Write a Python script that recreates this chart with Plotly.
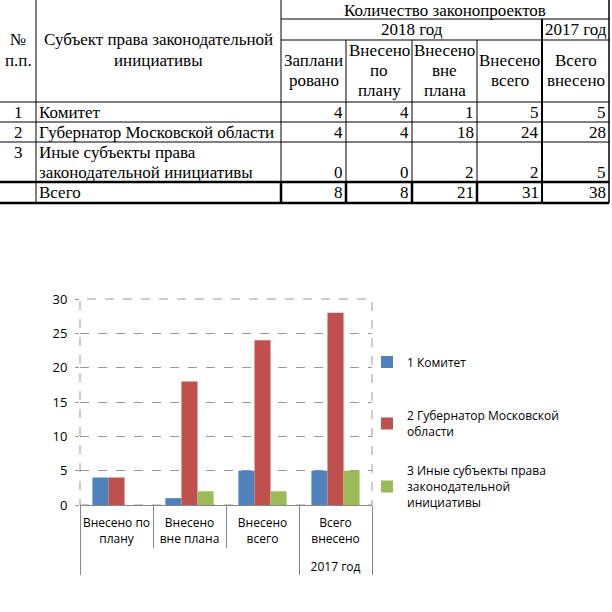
import plotly.graph_objects as go

# ---------------- data ----------------
row_numbers = ["1", "2", "3", ""]
subjects = ["Комитет", "Губернатор Московской области",
            "Иные субъекты права<br>законодательной инициативы", "Всего"]
planned = [4, 4, 0, 8]
in_plan = [4, 4, 0, 8]
out_plan = [1, 18, 2, 21]
total_2018 = [5, 24, 2, 31]
total_2017 = [5, 28, 5, 38]

series_names = ["1 Комитет", "2 Губернатор Московской<br>области",
                "3 Иные субъекты права<br>законодательной<br>инициативы"]
categories = ["Внесено по<br>плану", "Внесено<br>вне плана", "Внесено<br>всего", "Всего<br>внесено"]
groups = [" ", " ", " ", "<br>2017 год"]
colors = ["#4F81BD", "#C0504D", "#9BBB59"]

W = H = 612


def px(x):
    return x / W


def py(y):
    return 1 - y / H


fig = go.Figure()

# ---------------- chart ----------------
for i in range(3):
    vals = [in_plan[i], out_plan[i], total_2018[i], total_2017[i]]
    fig.add_trace(go.Bar(
        x=[groups, categories], y=vals, name=series_names[i],
        marker=dict(color=colors[i], line=dict(width=0)),
        legend="legend" if i == 0 else f"legend{i+1}",
        showlegend=True,
    ))

chart_font = "Open Sans"
fig.update_layout(
    width=W, height=H, showlegend=True,
    margin=dict(l=0, r=0, t=0, b=0, autoexpand=False),
    paper_bgcolor="white", plot_bgcolor="white",
    barmode="group", bargap=0.34, bargroupgap=0,
    font=dict(family=chart_font, size=12, color="#000"),
    xaxis=dict(domain=[px(80), px(372)], type="multicategory",
               showline=True, linecolor="#888", linewidth=1,
               ticks="outside", ticklen=42, tickcolor="#888", tickangle=0,
               ticklabelstandoff=7,
               showdividers=True, dividercolor="#888", dividerwidth=1,
               tickfont=dict(size=12, family=chart_font),
               showgrid=False),
    yaxis=dict(domain=[py(505), py(299)], range=[0, 30], dtick=5,
               showgrid=True, gridcolor="#999", griddash="dash", gridwidth=1,
               showline=False, zeroline=False,
               ticks="outside", ticklen=4, tickcolor="#999",
               ticklabelstandoff=5,
               tickfont=dict(size=13, family=chart_font)),
)

leg_common = dict(xanchor="left", yanchor="top", bgcolor="rgba(0,0,0,0)",
                  font=dict(size=12, family=chart_font, color="#000"),
                  itemwidth=30, itemclick=False, visible=True)
fig.update_layout(
    legend=dict(x=px(367), y=py(347.5), **leg_common),
    legend2=dict(x=px(367), y=py(401.5), **leg_common),
    legend3=dict(x=px(367), y=py(456.5), **leg_common),
)

# dashed plot-area frame
fig.add_shape(type="rect", xref="x domain", yref="y domain", x0=0, x1=1, y0=0, y1=1,
              line=dict(color="#999", width=1, dash="dash"), layer="below")

# ---------------- table ----------------
cols = [0, 36, 281, 346, 412, 477, 542, 609]


def hline(x0, x1, y, w=1):
    fig.add_shape(type="line", xref="paper", yref="paper",
                  x0=px(x0), x1=px(x1), y0=py(y), y1=py(y),
                  line=dict(color="black", width=w))


def vline(x, y0, y1, w=1):
    fig.add_shape(type="line", xref="paper", yref="paper",
                  x0=px(x), x1=px(x), y0=py(y0), y1=py(y1),
                  line=dict(color="black", width=w))


hline(281, 609, 19)
hline(281, 542, 40)
hline(542, 609, 40)
for y in [102, 122, 142]:
    hline(0, 609, y)
hline(0, 609, 182, 2.5)
hline(0, 609, 203, 2.5)
vline(36, 0, 203)
vline(281, 0, 182)
vline(281, 182, 203, 2.5)
for x in [346, 412, 477]:
    vline(x, 40, 182)
    vline(x, 182, 203, 2.5)
vline(542, 19, 203, 2)
vline(609, 0, 203, 1.5)

tfont = dict(family="Liberation Serif", size=17, color="black")


def txt(x, y, s, xanchor="center"):
    fig.add_annotation(xref="paper", yref="paper", x=px(x), y=py(y), text=s,
                       showarrow=False, xanchor=xanchor, yanchor="middle",
                       font=tfont, align="left" if xanchor == "left" else "center")


def stack(x, ys, lines, xanchor="center"):
    for yy, s in zip(ys, lines):
        txt(x, yy, s, xanchor)


stack(18, [40, 61], ["№", "п.п."])
stack(158, [40, 61], ["Субъект права законодательной", "инициативы"])
txt(445, 10, "Количество законопроектов")
txt(411.5, 29.5, "2018 год")
txt(575.5, 29.5, "2017 год")
stack(313.5, [61, 81], ["Заплани", "ровано"])
stack(379, [50, 70, 90], ["Внесено", "по", "плану"])
stack(444.5, [50, 70, 90], ["Внесено", "вне", "плана"])
stack(509.5, [61, 81], ["Внесено", "всего"])
stack(575.5, [61, 81], ["Всего", "внесено"])

row_y = [112, 132, 152, 192.5]
val_y = [112, 132, 172, 192.5]
for r in range(4):
    if row_numbers[r]:
        txt(18, row_y[r], row_numbers[r])
    parts = subjects[r].split("<br>")
    stack(37, [row_y[r] + 20 * k for k in range(len(parts))], parts, "left")
    for c, colvals in enumerate([planned, in_plan, out_plan, total_2018, total_2017]):
        txt(cols[c + 3] - 1, val_y[r], str(colvals[r]), "right")

fig.write_html("out.html")
